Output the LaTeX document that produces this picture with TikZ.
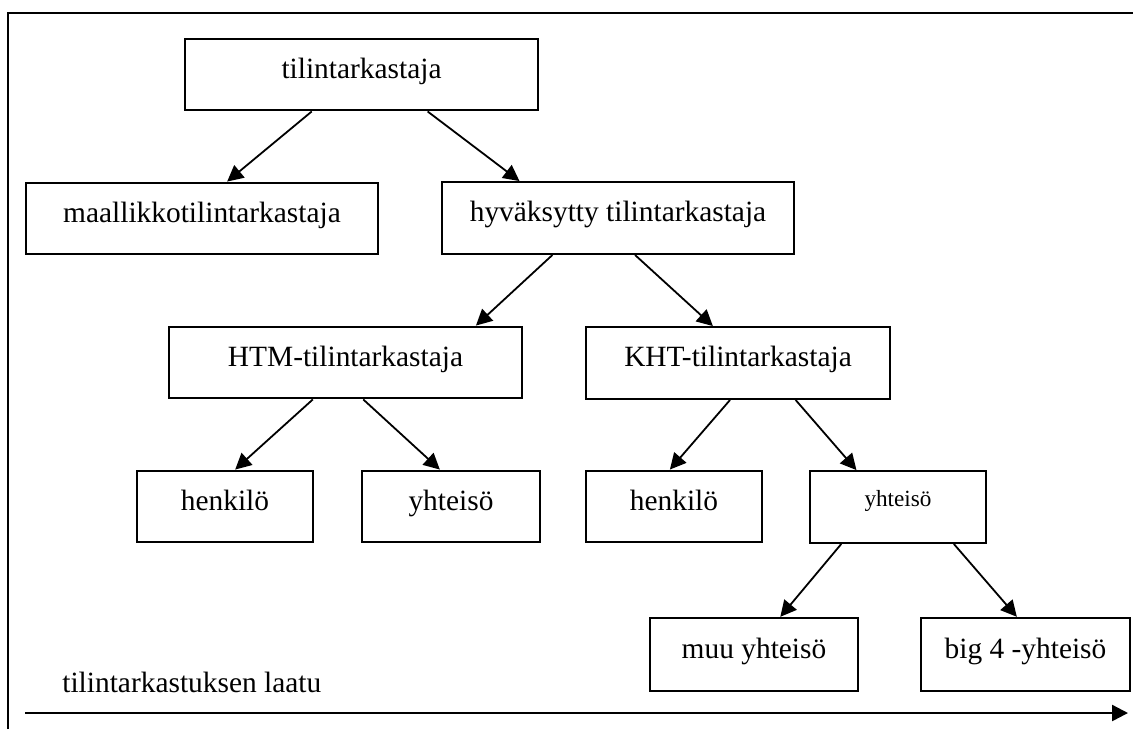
\documentclass[tikz,border=0pt]{standalone}
\usepackage{fontspec}
\setmainfont{Liberation Serif}
\usepackage{tikz}
\usetikzlibrary{arrows.meta,calc,positioning}

\begin{document}
\begin{tikzpicture}[x=0.5pt,y=-0.5pt]
\tikzstyle{box}=[draw,line width=1.2pt,inner sep=0pt,minimum height=35.75pt,text height=10.5pt,text depth=7pt,font=\fontsize{14.7}{17}\selectfont]
\tikzstyle{link}=[-{Triangle[length=8pt,width=8pt]},line width=0.9pt]
\useasboundingbox (0,0) rectangle (1133,729);

\draw[line width=1.2pt] (8,729) -- (8,13) -- (1133,13);

\node[box,minimum width=176.5pt] (top) at (361.5,74.5) {tilintarkastaja};
\node[box,minimum width=176pt] (maal) at (202,218.5) {maallikkotilintarkastaja};
\node[box,minimum width=176pt] (hyv) at (618,218) {hyväksytty tilintarkastaja};
\node[box,minimum width=176.5pt] (htm) at (345.5,362.5) {HTM-tilintarkastaja};
\node[box,minimum width=152pt] (kht) at (738,363) {KHT-tilintarkastaja};
\node[box,minimum width=88pt] (hen1) at (225,506.5) {henkilö};
\node[box,minimum width=89pt] (yht1) at (451,506.5) {yhteisö};
\node[box,minimum width=88pt] (hen2) at (674,506.5) {henkilö};
\node[box,minimum width=88pt,font=\fontsize{11.6}{13}\selectfont,text height=8pt,text depth=9pt] (yht2) at (898,507) {yhteisö};
\node[box,minimum width=104pt,minimum height=36.5pt] (muu) at (754,654.5) {muu yhteisö};
\node[box,minimum width=104.5pt,minimum height=36.5pt] (big) at (1025.5,654.5) {big 4 -yhteisö};

\foreach \a/\p/\b/\q in {top/.36/maal/.571, top/.686/hyv/.222, hyv/.315/htm/.867, hyv/.548/kht/.418,
  htm/.408/hen1/.557, htm/.55/yht1/.438, kht/.474/hen2/.477, kht/.688/yht2/.267,
  yht2/.182/muu/.625, yht2/.813/big/.459}
  \draw[link] ($(\a.south west)!\p!(\a.south east)$) -- ($(\b.north west)!\q!(\b.north east)$);

\node[anchor=base west,inner sep=0pt,font=\fontsize{14.7}{17}\selectfont] (laatu) at (62,692) {tilintarkastuksen laatu};
\coordinate (qa) at (25,713);
\coordinate (qb) at (1128,713);
\draw[line width=1.2pt,-{Triangle[length=8pt,width=8pt]}] (qa) -- (qb);
\end{tikzpicture}
\end{document}
